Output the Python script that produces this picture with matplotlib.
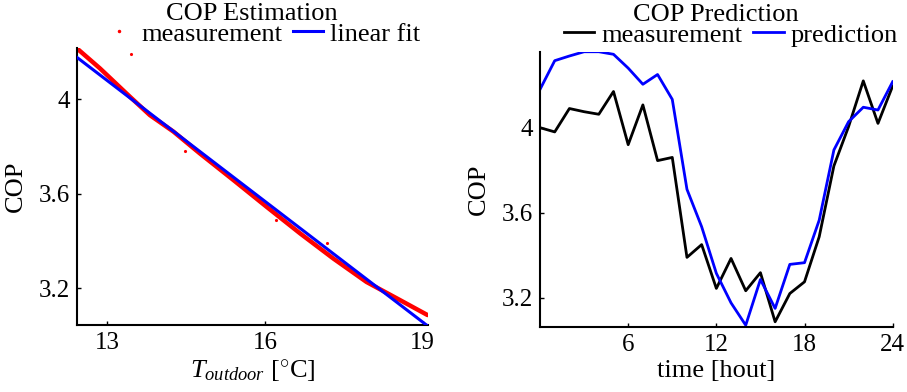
import matplotlib
matplotlib.use("Agg")
import matplotlib.pyplot as plt
from matplotlib.lines import Line2D

# ---- Left panel data: COP vs outdoor temperature ----
meas_T = [12.42, 12.86, 13.43, 13.81, 14.26, 14.76, 15.40, 16.03, 16.67, 17.30, 17.93, 18.57, 19.09]
meas_cop = [4.216, 4.131, 4.011, 3.933, 3.863, 3.771, 3.658, 3.545, 3.432, 3.326, 3.227, 3.150, 3.087]
outlier_T = [13.45, 14.48, 16.20, 17.17]
outlier_cop = [4.19, 3.78, 3.49, 3.39]
fit_T = [12.42, 19.07]
fit_cop = [4.178, 3.045]
xticks_left = [13, 16, 19]
yticks = [3.2, 3.6, 4.0]
ytick_labels = ["3.2", "3.6", "4"]

# ---- Right panel data: COP over a day ----
hours = list(range(25))
cop_meas = [4.00, 3.98, 4.09, 4.075, 4.063, 4.17, 3.92, 4.107, 3.845, 3.86, 3.39, 3.45,
            3.244, 3.385, 3.233, 3.318, 3.087, 3.22, 3.275, 3.487, 3.82, 4.005, 4.22, 4.02, 4.196]
cop_pred = [4.18, 4.315, 4.337, 4.357, 4.357, 4.345, 4.28, 4.204, 4.25, 4.133, 3.71, 3.534,
            3.315, 3.176, 3.071, 3.286, 3.15, 3.357, 3.365, 3.565, 3.895, 4.028, 4.096, 4.083, 4.216]
xticks_right = [6, 12, 18, 24]

plt.rcParams['font.family'] = ['Liberation Serif', 'DejaVu Serif']
plt.rcParams['mathtext.fontset'] = 'custom'
plt.rcParams['mathtext.it'] = 'Liberation Serif:italic'
plt.rcParams['mathtext.rm'] = 'Liberation Serif'
FS = 19
TFS = 18

W, H = 907, 392
fig = plt.figure(figsize=(W / 100, H / 100), dpi=100)
ax1 = fig.add_axes([0.0846, 0.171, 0.3873, 0.7066])
ax2 = fig.add_axes([0.5954, 0.1666, 0.3888, 0.7014])

def style(ax):
    for s in ['top', 'right']:
        ax.spines[s].set_visible(False)
    for s in ['left', 'bottom']:
        ax.spines[s].set_linewidth(1.5)
    ax.tick_params(direction='in', length=3, width=1, labelsize=TFS, pad=5)

# Left
ax1.plot(meas_T, meas_cop, color='#ff0000', lw=3.2, solid_capstyle='round', zorder=2)
ax1.plot(outlier_T, outlier_cop, ls='none', marker='.', ms=2.5, color='#ff0000', zorder=2)
ax1.plot(fit_T, fit_cop, color='#0000ff', lw=2.2, zorder=3)
ax1.set_xlim(12.42, 19.1)
ax1.set_ylim(3.045, 4.217)
ax1.set_xticks(xticks_left)
ax1.set_yticks(yticks)
ax1.set_yticklabels(ytick_labels)
style(ax1)
ax1.set_ylabel('COP', fontsize=FS)
ax1.yaxis.set_label_coords(-0.141, 0.5)
ax1.set_xlabel(r'$T_{outdoor}$ [$\mathrm{^{\circ}}$C]', fontsize=FS)
ax1.xaxis.set_label_coords(0.5, -0.122)
fig.text(252 / W, 1 - 14 / H, 'COP Estimation', fontsize=FS, ha='center', va='center')
h1 = [Line2D([], [], ls='none', marker='.', ms=3, color='#ff0000'),
      Line2D([], [], color='#0000ff', lw=2.2)]
ax1.legend(h1, ['measurement', 'linear fit'], loc='center', bbox_to_anchor=(262 / W, 1 - 34 / H),
           bbox_transform=fig.transFigure,
           ncol=2, frameon=False, fontsize=FS, handlelength=1.15, handletextpad=0.27,
           columnspacing=0.4, borderpad=0, borderaxespad=0)

# Right
ax2.plot(hours, cop_meas, color='black', lw=2.0, label='measurement')
ax2.plot(hours, cop_pred, color='#0000ff', lw=2.0, label='prediction')
ax2.set_xlim(0, 24)
ax2.set_ylim(3.064, 4.357)
ax2.set_xticks(xticks_right)
ax2.set_yticks(yticks)
ax2.set_yticklabels(ytick_labels)
style(ax2)
ax2.set_ylabel('COP', fontsize=FS)
ax2.yaxis.set_label_coords(-0.142, 0.5)
ax2.set_xlabel('time [hout]', fontsize=FS)
ax2.xaxis.set_label_coords(0.5, -0.121)
fig.text(716 / W, 1 - 15 / H, 'COP Prediction', fontsize=FS, ha='center', va='center')
ax2.legend(loc='center', bbox_to_anchor=(731 / W, 1 - 35 / H), bbox_transform=fig.transFigure,
           ncol=2, frameon=False, fontsize=FS,
           handlelength=1.15, handletextpad=0.27, columnspacing=0.4, borderpad=0, borderaxespad=0)

fig.savefig('out.png', dpi=100)
